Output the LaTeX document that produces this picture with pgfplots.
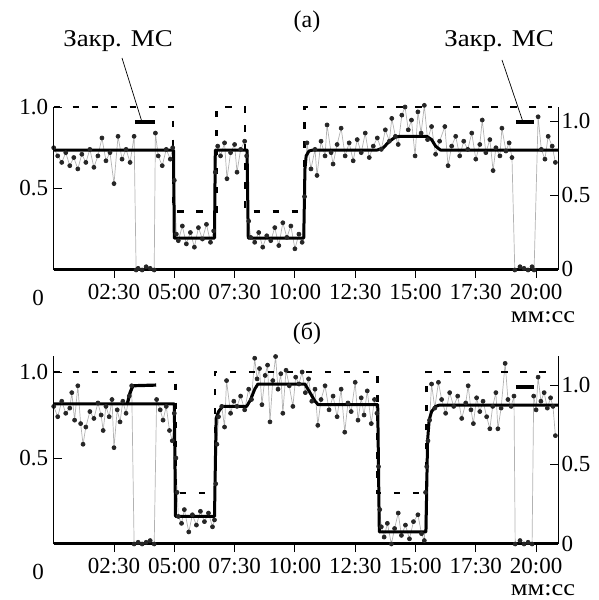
\documentclass[border=0pt]{standalone}
\usepackage{pgfplots}
\pgfplotsset{compat=1.18}
\usepackage{pgfplotstable}
\usepackage{fontspec}
\setmainfont{Liberation Serif}

\pgfplotstableread{
t v
0 0.75
10 0.70
20 0.66
30 0.72
40 0.64
50 0.69
60 0.62
70 0.71
80 0.66
90 0.74
100 0.63
110 0.70
120 0.81
130 0.67
140 0.72
150 0.53
160 0.82
170 0.68
180 0.74
190 0.66
200 0.82
205 0.0
210 0.01
220 0.0
230 0.02
240 0.01
250 0.0
253 0.84
260 0.70
270 0.64
280 0.74
290 0.68
296 0.75
300 0.55
305 0.22
310 0.18
320 0.27
330 0.16
340 0.23
350 0.14
360 0.26
370 0.19
380 0.28
390 0.17
398 0.24
402 0.60
408 0.76
415 0.70
425 0.78
431 0.56
440 0.72
450 0.77
456 0.60
465 0.74
475 0.79
480 0.70
485 0.30
490 0.20
500 0.17
510 0.23
520 0.14
530 0.21
540 0.18
550 0.26
560 0.15
570 0.29
580 0.20
590 0.27
600 0.13
610 0.22
618 0.17
624 0.45
630 0.78
640 0.62
650 0.74
655 0.58
665 0.79
675 0.70
680 0.89
690 0.72
695 0.65
705 0.77
715 0.87
725 0.70
735 0.78
745 0.67
755 0.80
765 0.72
775 0.84
785 0.69
795 0.76
805 0.81
815 0.74
825 0.86
835 0.79
841 0.93
850 0.82
857 0.77
866 0.95
874 1.00
882 0.86
890 0.92
899 0.70
906 0.97
914 0.84
922 1.01
930 0.80
940 0.88
950 0.71
960 0.79
973 0.88
981 0.64
990 0.76
1000 0.82
1010 0.70
1020 0.79
1030 0.74
1040 0.84
1050 0.68
1060 0.77
1066 0.92
1075 0.72
1085 0.80
1093 0.61
1100 0.75
1110 0.70
1115 0.87
1125 0.73
1133 0.78
1140 0.69
1147 0.0
1160 0.02
1170 0.01
1180 0.0
1190 0.02
1195 0.0
1205 0.94
1213 0.74
1222 0.68
1230 0.82
1240 0.76
1248 0.66
}\noiseA

\pgfplotstableread{
t v
0 0.80
10 0.74
20 0.83
30 0.76
40 0.79
45 0.88
52 0.72
60 0.92
67 0.70
73 0.58
80 0.68
90 0.77
100 0.73
110 0.82
118 0.75
123 0.66
130 0.80
138 0.74
145 0.84
150 0.56
158 0.78
165 0.71
172 0.83
180 0.76
188 0.86
194 0.92
200 0.0
210 0.01
220 0.0
230 0.01
240 0.02
250 0.0
256 0.84
265 0.78
272 0.72
280 0.80
288 0.66
295 0.60
300 0.76
304 0.50
307 0.30
310 0.16
318 0.12
325 0.20
336 0.07
345 0.17
355 0.11
365 0.19
375 0.13
385 0.18
395 0.10
400 0.14
403 0.35
406 0.58
410 0.74
418 0.80
425 0.68
430 0.95
440 0.76
448 0.83
456 0.80
465 0.86
475 0.78
485 0.90
492 0.84
500 1.08
506 0.96
512 1.02
518 0.81
526 0.98
532 1.04
538 0.71
545 0.95
552 1.09
558 0.90
565 0.99
570 0.76
578 1.01
586 0.92
595 0.80
602 0.97
610 0.93
618 1.00
626 0.88
634 0.96
642 0.83
650 0.90
657 0.69
665 0.84
675 0.92
685 0.78
695 0.86
705 0.74
715 0.90
724 0.65
732 0.82
740 0.77
750 0.94
757 0.72
765 0.85
772 0.75
780 0.89
790 0.70
798 0.84
804 0.76
808 0.45
811 0.20
815 0.10
822 0.04
830 0.12
840 0.0
848 0.09
857 0.18
865 0.05
875 0.11
885 0.03
895 0.13
906 0.17
915 0.06
922 0.02
925 0.30
928 0.45
931 0.60
935 0.72
940 0.93
948 0.79
957 0.94
965 0.84
975 0.76
985 0.88
995 0.80
1005 0.86
1015 0.73
1025 0.82
1031 0.92
1038 0.78
1044 0.70
1052 0.85
1060 0.77
1068 0.83
1077 0.74
1085 0.67
1092 0.80
1100 0.88
1105 0.67
1113 0.79
1123 1.05
1130 0.84
1138 0.80
1145 0.86
1148 0.0
1160 0.02
1170 0.0
1180 0.01
1190 0.0
1194 0.86
1200 0.78
1205 0.97
1212 0.83
1220 0.88
1228 0.79
1236 0.85
1242 0.80
1248 0.63
}\noiseB

\pgfplotsset{
  base/.style={scale only axis, width=504.3pt, xmin=0, xmax=1254.5,
    anchor=south west, clip=false,
    tick label style={font=\fontsize{23}{27}\selectfont},
    major tick length=8pt,
    every tick/.style={black, line width=0.8pt},
    axis line style={line width=0.9pt}},
  mainax/.style={base, axis x line*=bottom, axis y line*=left, ytick=\empty,
    tick align=outside,
    xticklabel style={inner sep=1pt, yshift=-5pt},
    xtick={150,300,450,600,750,900,1050,1200},
    xticklabels={02:30,05:00,07:30,10:00,12:30,15:00,17:30,20:00}},
  leftax/.style={base, axis x line=none, axis y line*=left, tick align=inside,
    ytick={0.5,1}, yticklabels={0.5,1.0}, yticklabel style={xshift=-2pt}},
  rightax/.style={base, axis x line=none, axis y line*=right, tick align=inside,
    ytick={0,0.5,1}, yticklabels={0,0.5,1.0}},
  noise/.style={gray!60, line width=0.7pt, mark=*, mark size=2pt,
    mark options={fill=black!85, draw=black!85}},
  solidl/.style={black, line width=3pt, line join=round},
  dashl/.style={black, line width=2.8pt, dash pattern=on 6.5pt off 12.5pt},
  zerol/.style={black, line width=3pt},
  barl/.style={black, line width=3.2pt}
}

\begin{document}
\begin{tikzpicture}
\path[use as bounding box] (0pt,0pt) rectangle (599pt,600pt);
\def\fs{\fontsize{23}{27}\selectfont}
\def\fl{\fontsize{24}{28}\selectfont}

% ---------- panel (a) ----------
\begin{axis}[mainax, at={(53.7pt,330pt)}, height=163pt, ymin=0, ymax=1]
\addplot[noise] table[x=t,y=v] {\noiseA};
\addplot[dashl] coordinates {(0,1)(297,1)(297,0.36)(404,0.36)(404,1)(476,1)(476,0.36)(623,0.36)(623,1)(1240,1)};
\addplot[solidl] coordinates {(0,0.736)(298,0.736)(300,0.196)(400,0.196)(402,0.736)(481,0.736)(484,0.196)(622,0.196)(625,0.62)(628,0.70)(635,0.73)(645,0.736)(805,0.736)(820,0.75)(835,0.79)(850,0.815)(860,0.82)(928,0.82)(940,0.80)(950,0.76)(962,0.736)(1254,0.736)};
\addplot[zerol] coordinates {(0,0)(1254,0)};
\addplot[barl] coordinates {(202,0.908)(252,0.908)};
\addplot[barl] coordinates {(1150,0.908)(1195,0.908)};
\end{axis}
\begin{axis}[leftax, at={(53.7pt,330pt)}, height=163pt, ymin=0, ymax=1]
\end{axis}
\begin{axis}[rightax, at={(53.7pt,330pt)}, height=163pt, ymin=-0.0068, ymax=1.095]
\end{axis}

% ---------- panel (b) ----------
\begin{axis}[mainax, at={(53.7pt,56pt)}, height=188pt, ymin=0, ymax=1.093]
\addplot[noise] table[x=t,y=v] {\noiseB};
\addplot[dashl] coordinates {(0,1)(302,1)(302,0.297)(401,0.297)(401,1)(806,1)(806,0.297)(927,0.297)(927,1)(1250,1)};
\addplot[solidl] coordinates {(0,0.814)(300,0.814)(303,0.16)(400,0.16)(404,0.73)(410,0.77)(420,0.80)(480,0.80)(490,0.84)(500,0.90)(508,0.93)(625,0.93)(640,0.87)(650,0.83)(658,0.81)(806,0.81)(810,0.07)(926,0.07)(930,0.60)(934,0.72)(940,0.77)(950,0.80)(960,0.808)(1254,0.808)};
\addplot[zerol] coordinates {(0,0)(1254,0)};
\addplot[barl] coordinates {(183,0.814)(190,0.88)(197,0.92)(255,0.924)};
\addplot[barl] coordinates {(1150,0.913)(1195,0.913)};
\end{axis}
\begin{axis}[leftax, at={(53.7pt,56pt)}, height=188pt, ymin=0, ymax=1.093]
\end{axis}
\begin{axis}[rightax, at={(53.7pt,56pt)}, height=188pt, ymin=0, ymax=1.182]
\end{axis}

% ---------- texts ----------
\node[font=\fl] at (307pt,578pt) {(а)};
\node[font=\fl] at (307pt,267pt) {(б)};
\node[font=\fs] at (38pt,302pt) {0};
\node[font=\fs] at (38pt,28pt) {0};
\node[font=\fs, anchor=base, inner sep=0pt, xscale=1.15] at (543pt,277pt) {мм:сс};
\node[font=\fs, anchor=base, inner sep=0pt, xscale=1.15] at (543pt,5pt) {мм:сс};
\node[font=\fl, xscale=1.12] at (118pt,559pt) {Закр. МС};
\node[font=\fl, xscale=1.12] at (499pt,559pt) {Закр. МС};
\draw[line width=0.7pt] (122pt,542pt) -- (142pt,478pt);
\draw[line width=0.7pt] (502pt,540pt) -- (523pt,478pt);
\end{tikzpicture}
\end{document}
